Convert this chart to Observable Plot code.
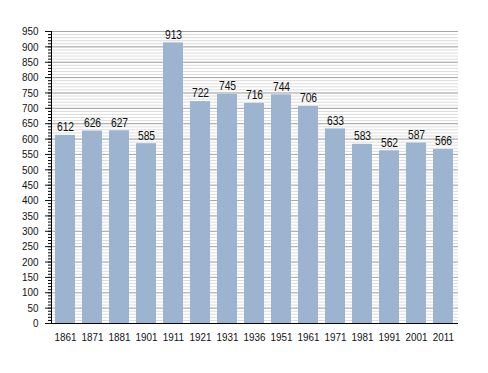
<!DOCTYPE html>
<html>
<head>
<meta charset="utf-8">
<script src="https://cdn.jsdelivr.net/npm/d3@7"></script>
<script src="https://cdn.jsdelivr.net/npm/@observablehq/plot@0.6"></script>
<style>
  html, body { margin: 0; padding: 0; background: #fff; }
  #chart { width: 488px; height: 373px; }
</style>
</head>
<body>
<div id="chart"></div>
<script>
const years = ["1861","1871","1881","1901","1911","1921","1931","1936","1951","1961","1971","1981","1991","2001","2011"];
const population = [612, 626, 627, 585, 913, 722, 745, 716, 744, 706, 633, 583, 562, 587, 566];
const majorTicks = d3.range(0, 951, 50);
const minorTicks = d3.range(0, 951, 10);

const data = years.map((y, i) => ({year: y, value: population[i]}));

const chart = Plot.plot({
  width: 488,
  height: 373,
  marginLeft: 51,
  marginRight: 30,
  marginTop: 31,
  marginBottom: 50,
  style: {fontFamily: "'Liberation Sans', Arial, sans-serif", fontSize: "11.5px", color: "#111", background: "#fff"},
  x: {domain: years, paddingInner: 0.25, paddingOuter: 0.01, label: null},
  y: {domain: [0, 950], label: null},
  marks: [
    Plot.ruleY(minorTicks, {stroke: "#dcdcdc", strokeWidth: 1}),
    Plot.ruleY(majorTicks, {stroke: "#a8a8a8", strokeWidth: 1}),
    Plot.barY(data, {x: "year", y: "value", fill: "#9cb4d0"}),
    Plot.text(data, {x: "year", y: "value", text: d => String(d.value), dy: -8, fill: "#111", fontSize: 12}),
    Plot.axisY({ticks: minorTicks, tickSize: 3, text: null, stroke: "#000"}),
    Plot.axisY({ticks: majorTicks, tickSize: 6, tickPadding: 7, fill: "#111", fontSize: 11.5}),
    Plot.axisX({tickSize: 0, tickPadding: 9, fill: "#111", fontSize: 11.5}),
    Plot.frame({anchor: "left", stroke: "#000"}),
    Plot.ruleY([0], {stroke: "#000"})
  ]
});

// condense the lettering horizontally, like the narrow face of the original
chart.querySelectorAll("text").forEach(t => {
  const tr = t.getAttribute("transform");
  if (tr) {
    t.setAttribute("transform", tr + " scale(0.86,1)");
  } else if (t.hasAttribute("x") || t.hasAttribute("y")) {
    const x = t.getAttribute("x") || 0, y = t.getAttribute("y") || 0;
    t.removeAttribute("x"); t.removeAttribute("y");
    t.setAttribute("transform", `translate(${x},${y}) scale(0.86,1)`);
  }
});

document.getElementById("chart").appendChild(chart);
</script>
</body>
</html>
